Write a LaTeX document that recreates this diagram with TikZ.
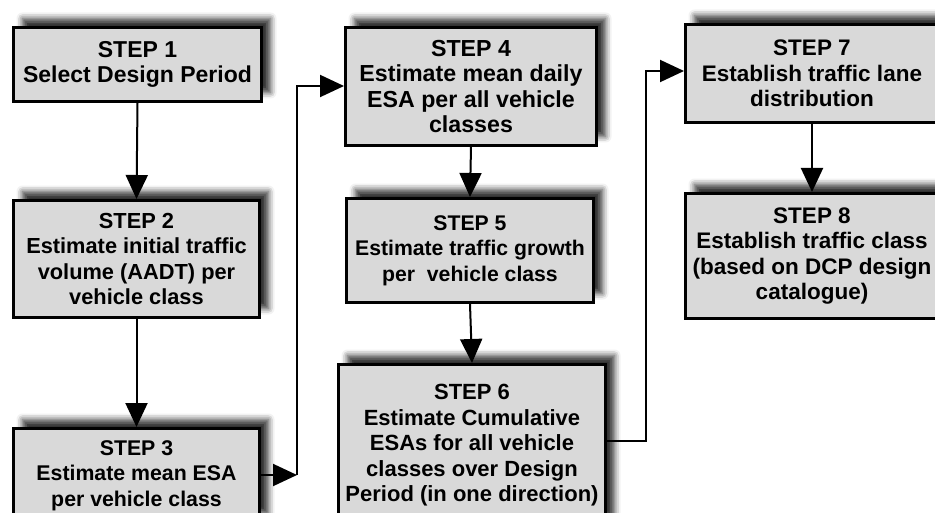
\documentclass[tikz,border=0pt]{standalone}
\usepackage{fontspec}
\setmainfont{Liberation Sans}
\usetikzlibrary{arrows.meta,shadows.blur}
\tikzset{
  stepbox/.style={draw=black, line width=3pt, fill=black!15, anchor=north west,
    align=center, inner sep=0pt, font=\bfseries\fontsize{#1}{25.5}\selectfont,
    blur shadow={shadow xshift=9pt, shadow yshift=9pt, shadow blur radius=6pt, shadow opacity=80}},
  stepbox/.default=21,
  flow/.style={line width=2pt, -{Triangle[length=24pt,width=22pt]}}
}
\begin{document}
\begin{tikzpicture}[x=1pt,y=-1pt]
            \useasboundingbox (0,0) rectangle (935,513);
            \clip (0,0) rectangle (935,513);
            % steps
            \node[stepbox=23,minimum width=248pt,minimum height=74pt] (s1) at (12,26) {STEP 1\\Select Design Period};
            \node[stepbox=21.8,minimum width=246pt,minimum height=117pt] (s2) at (12,199) {STEP 2\\Estimate initial traffic\\volume (AADT) per\\vehicle class};
            \node[stepbox=21.3,minimum width=246pt,minimum height=94pt] (s3) at (12,427) {STEP 3\\Estimate mean ESA\\per vehicle class};
            \node[stepbox=23.2,minimum width=251pt,minimum height=118pt] (s4) at (344,26) {STEP 4\\Estimate mean daily\\ESA per all vehicle\\classes};
            \node[stepbox=21.2,minimum width=247pt,minimum height=104pt] (s5) at (345,197) {STEP 5\\Estimate traffic growth\\per~ vehicle class};
            \node[stepbox=22,minimum width=267pt,minimum height=162pt] (s6) at (337,363) {STEP 6\\Estimate Cumulative\\ESAs for all vehicle\\classes over Design\\Period (in one direction)};
            \node[stepbox=22.5,minimum width=253pt,minimum height=98pt] (s7) at (684,23) {STEP 7\\Establish traffic lane\\distribution};
            \node[stepbox=22.5,minimum width=253pt,minimum height=125pt] (s8) at (684,192) {STEP 8\\Establish traffic class\\(based on DCP design\\catalogue)};
            % corners of the long links
            \coordinate (c3) at (297,475);
            \coordinate (c4) at (297,86);
            \coordinate (c6) at (646,441);
            \coordinate (c7) at (646,71);
            % arrows
            \draw[flow] (s1.south) -- (s2.north);
            \draw[flow] (s2.south) -- (s3.north);
            \draw[flow] (s3.east |- c3) -- (c3);
            \draw[flow] (c3) -- (c4) -- (s4.west |- c4);
            \draw[flow] (s4.south) -- (s5.north);
            \draw[flow] (s5.south) -- (s6.north);
            \draw[flow] (s6.east |- c6) -- (c6) -- (c7) -- (s7.west |- c7);
            \draw[flow] (s7.south) -- (s8.north);
        \end{tikzpicture}
\end{document}
